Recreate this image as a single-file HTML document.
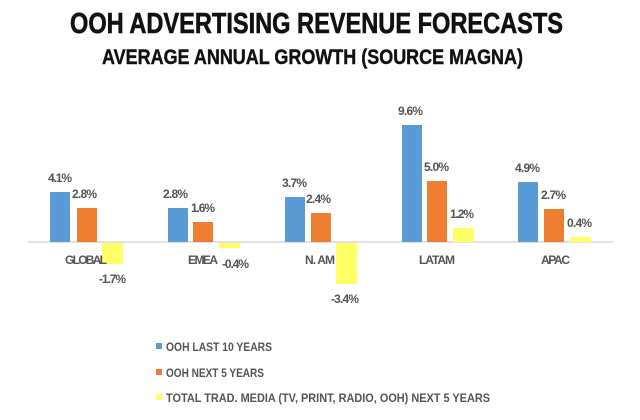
<!DOCTYPE html>
<html><head><meta charset="utf-8"><style>html,body{margin:0;padding:0;background:#fff}svg{display:block}</style></head>
<body>
<svg width="640" height="420" viewBox="0 0 640 420" xmlns="http://www.w3.org/2000/svg" font-family="'Liberation Sans Narrow','Liberation Sans',sans-serif" font-weight="bold">
<text x="70" y="33" font-size="29" fill="#111" stroke="#111" stroke-width="0.6" textLength="493" lengthAdjust="spacingAndGlyphs">OOH ADVERTISING REVENUE FORECASTS</text>
<text x="102" y="64" font-size="21" fill="#111" stroke="#111" stroke-width="0.4" textLength="421" lengthAdjust="spacingAndGlyphs">AVERAGE ANNUAL GROWTH (SOURCE MAGNA)</text>
<line x1="28" y1="242" x2="613" y2="242" stroke="#d9d9d9" stroke-width="1.5"/>
<rect x="50" y="192" width="20" height="50" fill="#5b9bd5"/>
<rect x="77" y="208" width="20" height="34" fill="#ed7d31"/>
<rect x="102" y="243" width="21" height="21" fill="#ffff66"/>
<rect x="168" y="208" width="20" height="34" fill="#5b9bd5"/>
<rect x="193" y="222" width="20" height="20" fill="#ed7d31"/>
<rect x="219" y="243" width="21" height="5" fill="#ffff66"/>
<rect x="285" y="197" width="20" height="45" fill="#5b9bd5"/>
<rect x="311" y="213" width="20" height="29" fill="#ed7d31"/>
<rect x="336" y="243" width="21" height="41" fill="#ffff66"/>
<rect x="402" y="125" width="20" height="117" fill="#5b9bd5"/>
<rect x="427" y="181" width="20" height="61" fill="#ed7d31"/>
<rect x="453" y="228" width="21" height="14" fill="#ffff66"/>
<rect x="518" y="182" width="20" height="60" fill="#5b9bd5"/>
<rect x="544" y="209" width="20" height="33" fill="#ed7d31"/>
<rect x="570" y="237" width="21" height="5" fill="#ffff66"/>
<g font-size="12" fill="#555" lengthAdjust="spacingAndGlyphs">
<text x="48" y="182" textLength="24">4.1%</text><text x="72" y="198" textLength="25">2.8%</text><text x="99" y="283" textLength="27">-1.7%</text>
<text x="163" y="198" textLength="25">2.8%</text><text x="191" y="212" textLength="24">1.6%</text><text x="222" y="268" textLength="27">-0.4%</text>
<text x="282" y="187" textLength="25">3.7%</text><text x="306" y="203" textLength="25">2.4%</text><text x="331" y="303" textLength="28">-3.4%</text>
<text x="398" y="115" textLength="25">9.6%</text><text x="424" y="171" textLength="25">5.0%</text><text x="450" y="218" textLength="24">1.2%</text>
<text x="515" y="172" textLength="25">4.9%</text><text x="541" y="199" textLength="25">2.7%</text><text x="567" y="227" textLength="25">0.4%</text>
</g>
<g font-size="12" fill="#555" lengthAdjust="spacingAndGlyphs">
<text x="65" y="264" textLength="42">GLOBAL</text><text x="188" y="264" textLength="30">EMEA</text><text x="305" y="264" textLength="30">N. AM</text><text x="419" y="264" textLength="36">LATAM</text><text x="541" y="264" textLength="29">APAC</text>
</g>
<rect x="156" y="343" width="6" height="6" fill="#5b9bd5"/>
<rect x="156" y="369" width="6" height="6" fill="#ed7d31"/>
<rect x="156" y="394" width="6" height="6" fill="#ffff66"/>
<g font-size="12" fill="#555">
<text x="166" y="351" textLength="106" lengthAdjust="spacingAndGlyphs">OOH LAST 10 YEARS</text>
<text x="166" y="377" textLength="98" lengthAdjust="spacingAndGlyphs">OOH NEXT 5 YEARS</text>
<text x="166" y="402" textLength="324" lengthAdjust="spacingAndGlyphs">TOTAL TRAD. MEDIA (TV, PRINT, RADIO, OOH) NEXT 5 YEARS</text>
</g>
</svg>
</body></html>
